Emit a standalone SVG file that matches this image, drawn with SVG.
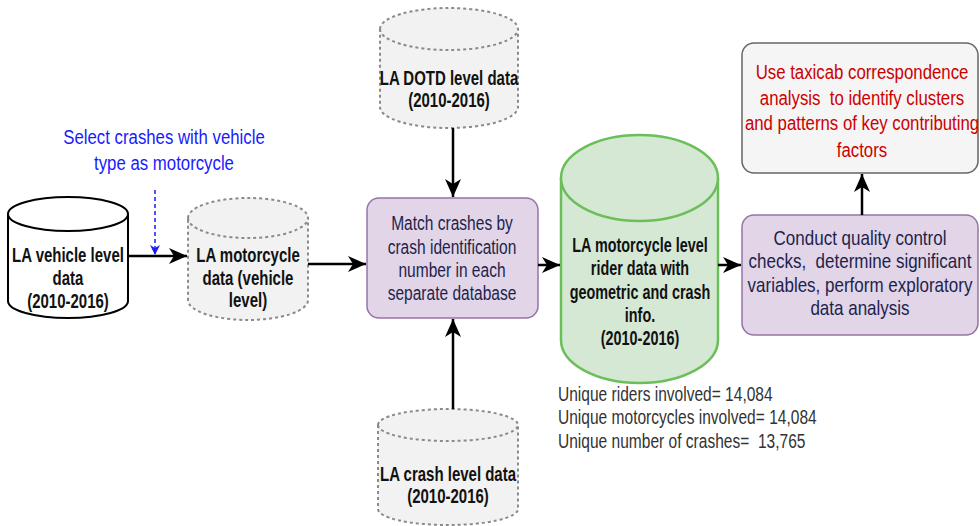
<svg xmlns="http://www.w3.org/2000/svg" width="980" height="526" viewBox="0 0 980 526">
<defs>
<marker id="ahb" markerWidth="10" markerHeight="10" refX="9" refY="5" orient="auto" markerUnits="userSpaceOnUse"><path d="M0,0 L10,5 L0,10 L3,5 Z" fill="#1a1aff"/></marker>
<marker id="ahl" markerWidth="20" markerHeight="16" refX="18" refY="8" orient="auto" markerUnits="userSpaceOnUse"><path d="M0,0 L18,8 L0,16 L5,8 Z" fill="#000"/></marker>
</defs>
<style>
text{font-family:"Liberation Sans",Arial,sans-serif;text-anchor:middle;dominant-baseline:central}
.b{font-weight:bold;font-size:20px;fill:#111}
.r{font-size:21px}
.nv{fill:#1f1f4d}
.rd{fill:#cc0000}
.bl{fill:#1a1aff}
.st{fill:#333;text-anchor:start}
.dash{fill:#f2f2f2;stroke:#8a8a8a;stroke-width:2;stroke-dasharray:3 3}
.solid{fill:#fff;stroke:#000;stroke-width:2}
.grn{fill:#d5e8d4;stroke:#6bbf59;stroke-width:2.5}
.pur{fill:#e1d5e7;stroke:#9673a6;stroke-width:1.5}
.gry{fill:#f5f5f5;stroke:#666;stroke-width:1.5}
.conn{stroke:#000;stroke-width:2.5;fill:none}
</style>
<g id="vehicle">
<path class="solid" d="M8,214 A60,17 0 0 1 128,214 L128,301 A60,17 0 0 1 8,301 Z"/>
<path class="solid" d="M8,214 A60,17 0 0 0 128,214" fill="none"/>
<g transform="translate(68,0) scale(0.75,1)">
<text class="b" x="0" y="255">LA vehicle level</text>
<text class="b" x="0" y="278">data</text>
<text class="b" x="0" y="301">(2010-2016)</text>
</g>
</g>
<g id="select-label" transform="translate(164,0) scale(0.8,1)">
<text class="r bl" x="0" y="137">Select crashes with vehicle</text>
<text class="r bl" x="0" y="163">type as motorcycle</text>
</g>
<g id="motorcycle">
<path class="dash" d="M188,218 A60,20 0 0 1 308,218 L308,300 A60,20 0 0 1 188,300 Z"/>
<path class="dash" d="M188,218 A60,20 0 0 0 308,218" fill="none"/>
<g transform="translate(248,0) scale(0.75,1)">
<text class="b" x="0" y="255">LA motorcycle</text>
<text class="b" x="0" y="278">data (vehicle</text>
<text class="b" x="0" y="300">level)</text>
</g>
</g>
<g id="dotd">
<path class="dash" d="M380,29 A69,21 0 0 1 518,29 L518,107 A69,21 0 0 1 380,107 Z"/>
<path class="dash" d="M380,29 A69,21 0 0 0 518,29" fill="none"/>
<g transform="translate(449,0) scale(0.75,1)">
<text class="b" x="0" y="78">LA DOTD level data</text>
<text class="b" x="0" y="100">(2010-2016)</text>
</g>
</g>
<g id="match">
<rect class="pur" x="367" y="198" width="171" height="120" rx="12"/>
<g transform="translate(452,0) scale(0.74,1)">
<text class="r nv" x="0" y="223">Match crashes by</text>
<text class="r nv" x="0" y="247">crash identification</text>
<text class="r nv" x="0" y="270">number in each</text>
<text class="r nv" x="0" y="293">separate database</text>
</g>
</g>
<g id="crash">
<path class="dash" d="M378,425 A70,16 0 0 1 518,425 L518,509 A70,16 0 0 1 378,509 Z"/>
<path class="dash" d="M378,425 A70,16 0 0 0 518,425" fill="none"/>
<g transform="translate(448,0) scale(0.75,1)">
<text class="b" x="0" y="474">LA crash level data</text>
<text class="b" x="0" y="496">(2010-2016)</text>
</g>
</g>
<g id="rider">
<path class="grn" d="M561,178 A78.5,43 0 0 1 718,178 L718,340 A78.5,43 0 0 1 561,340 Z"/>
<path class="grn" d="M561,178 A78.5,43 0 0 0 718,178" fill="none"/>
<g transform="translate(640,0) scale(0.72,1)">
<text class="b" x="0" y="245">LA motorcycle level</text>
<text class="b" x="0" y="268">rider data with</text>
<text class="b" x="0" y="292">geometric and crash</text>
<text class="b" x="0" y="315">info.</text>
<text class="b" x="0" y="338">(2010-2016)</text>
</g>
</g>
<g id="stats" transform="translate(558,0) scale(0.74,1)">
<text class="r st" x="0" y="394">Unique riders involved= 14,084</text>
<text class="r st" x="0" y="417">Unique motorcycles involved= 14,084</text>
<text class="r st" x="0" y="441" xml:space="preserve">Unique number of crashes=  13,765</text>
</g>
<g id="quality">
<rect class="pur" x="742" y="215" width="236" height="120" rx="12"/>
<g transform="translate(860,0) scale(0.81,1)">
<text class="r nv" x="0" y="238">Conduct quality control</text>
<text class="r nv" x="0" y="261" xml:space="preserve">checks,  determine significant</text>
<text class="r nv" x="0" y="285">variables, perform exploratory</text>
<text class="r nv" x="0" y="308">data analysis</text>
</g>
</g>
<g id="taxicab">
<rect class="gry" x="742" y="43" width="236" height="130" rx="12"/>
<g transform="translate(862,0) scale(0.8,1)">
<text class="r rd" x="0" y="72">Use taxicab correspondence</text>
<text class="r rd" x="0" y="98" xml:space="preserve">analysis  to identify clusters</text>
<text class="r rd" x="0" y="123">and patterns of key contributing</text>
<text class="r rd" x="0" y="150">factors</text>
</g>
</g>
<g id="connectors">
<line class="conn" x1="128" y1="256" x2="187" y2="256" marker-end="url(#ahl)"/>
<line x1="155" y1="190" x2="155" y2="254" stroke="#1a1aff" stroke-width="1.5" stroke-dasharray="4 3" marker-end="url(#ahb)"/>
<line class="conn" x1="308" y1="264" x2="366" y2="264" marker-end="url(#ahl)"/>
<line class="conn" x1="453" y1="128" x2="453" y2="197" marker-end="url(#ahl)"/>
<line class="conn" x1="453" y1="409" x2="453" y2="319" marker-end="url(#ahl)"/>
<line class="conn" x1="538" y1="265" x2="560" y2="265" marker-end="url(#ahl)"/>
<line class="conn" x1="718" y1="265" x2="741" y2="265" marker-end="url(#ahl)"/>
<line class="conn" x1="862" y1="215" x2="862" y2="174" marker-end="url(#ahl)"/>
</g>
</svg>
